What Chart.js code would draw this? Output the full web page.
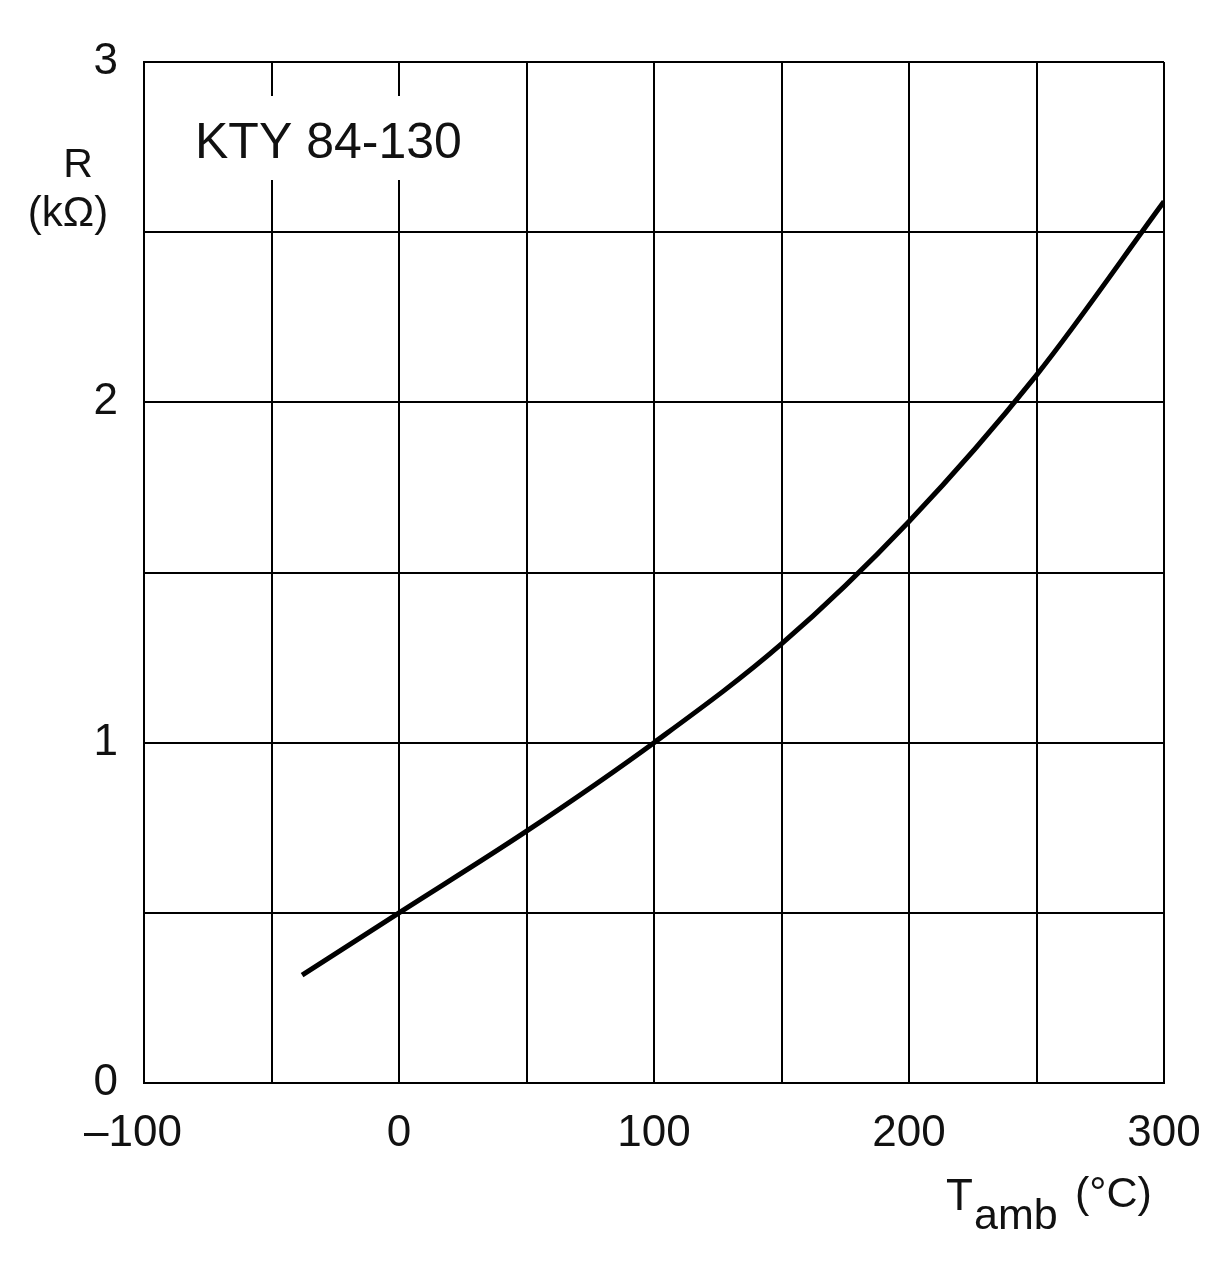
<!DOCTYPE html>
<html>
<head>
<meta charset="utf-8">
<script src="https://cdn.jsdelivr.net/npm/chart.js@4/dist/chart.umd.min.js"></script>
<style>
  body { margin: 0; background: #fff; }
  #wrap { width: 1231px; height: 1279px; }
</style>
</head>
<body>
<div id="wrap"><canvas id="ktyChart" width="1231" height="1279"></canvas></div>
<script>
// values
const temps = [-38, 0, 50, 100, 150, 200, 250, 300];
const resistance = [0.317, 0.50, 0.74, 1.00, 1.29, 1.65, 2.08, 2.59];
const xTickLabels = [-100, 0, 100, 200, 300];
const yTickLabels = [0, 1, 2, 3];
const deviceName = 'KTY 84-130';

const fontName = '"Liberation Sans", Arial, sans-serif';

// extra labels: device name in white box, axis titles
const labelsPlugin = {
    id: 'labels',
    afterDraw(chart) {
        const ctx = chart.ctx;
        const area = chart.chartArea;
        ctx.save();
        // white box behind the device name
        ctx.fillStyle = '#fff';
        ctx.fillRect(area.left + 40, area.top + 34, 300, 84);
        ctx.fillStyle = '#111';
        ctx.font = '50px ' + fontName;
        ctx.textBaseline = 'alphabetic';
        ctx.textAlign = 'left';
        ctx.fillText(deviceName, area.left + 51, area.top + 96);

        // y title
        ctx.textAlign = 'center';
        ctx.font = '41px ' + fontName;
        ctx.fillText('R', 78, 177);
        ctx.font = '42px ' + fontName;
        ctx.fillText('(k\u03A9)', 68, 226);

        // x title with subscript
        ctx.textAlign = 'left';
        ctx.font = '44px ' + fontName;
        ctx.fillText('T', 946, 1210);
        ctx.font = '43px ' + fontName;
        ctx.fillText('amb', 974, 1229);
        ctx.font = '43px ' + fontName;
        ctx.fillText('(\u00B0C)', 1075, 1207);
        ctx.restore();
    }
};

const data = {
    datasets: [{
        label: deviceName,
        data: temps.map((t, i) => ({ x: t, y: resistance[i] })),
        borderColor: '#000',
        borderWidth: 5,
        pointRadius: 0,
        fill: false,
        cubicInterpolationMode: 'monotone',
        borderCapStyle: 'butt'
    }]
};

const config = {
    type: 'line',
    data: data,
    options: {
        responsive: false,
        animation: false,
        layout: { padding: { top: 62, right: 67, left: 0, bottom: 0 } },
        plugins: {
            legend: { display: false },
            tooltip: { enabled: false }
        },
        scales: {
            x: {
                type: 'linear',
                min: xTickLabels[0],
                max: xTickLabels[xTickLabels.length - 1],
                afterFit(scale) { scale.height = 196; },
                grid: { color: '#000', lineWidth: 2, drawTicks: false },
                border: { color: '#000', width: 2 },
                ticks: {
                    stepSize: 50,
                    padding: 24,
                    color: '#111',
                    font: { size: 44, family: fontName },
                    maxRotation: 0,
                    autoSkip: false,
                    callback: v => xTickLabels.includes(v) ? (v < 0 ? '\u2013' + Math.abs(v) + '\u2002' : String(v)) : ''
                }
            },
            y: {
                min: yTickLabels[0],
                max: yTickLabels[yTickLabels.length - 1],
                afterFit(scale) { scale.width = 144; },
                grid: { color: '#000', lineWidth: 2, drawTicks: false },
                border: { color: '#000', width: 2 },
                ticks: {
                    stepSize: 0.5,
                    padding: 26,
                    color: '#111',
                    font: { size: 44, family: fontName },
                    autoSkip: false,
                    callback: v => yTickLabels.includes(v) ? String(v) : ''
                }
            }
        }
    },
    plugins: [labelsPlugin]
};

var myChart = new Chart(document.getElementById('ktyChart'), config);
</script>
</body>
</html>
